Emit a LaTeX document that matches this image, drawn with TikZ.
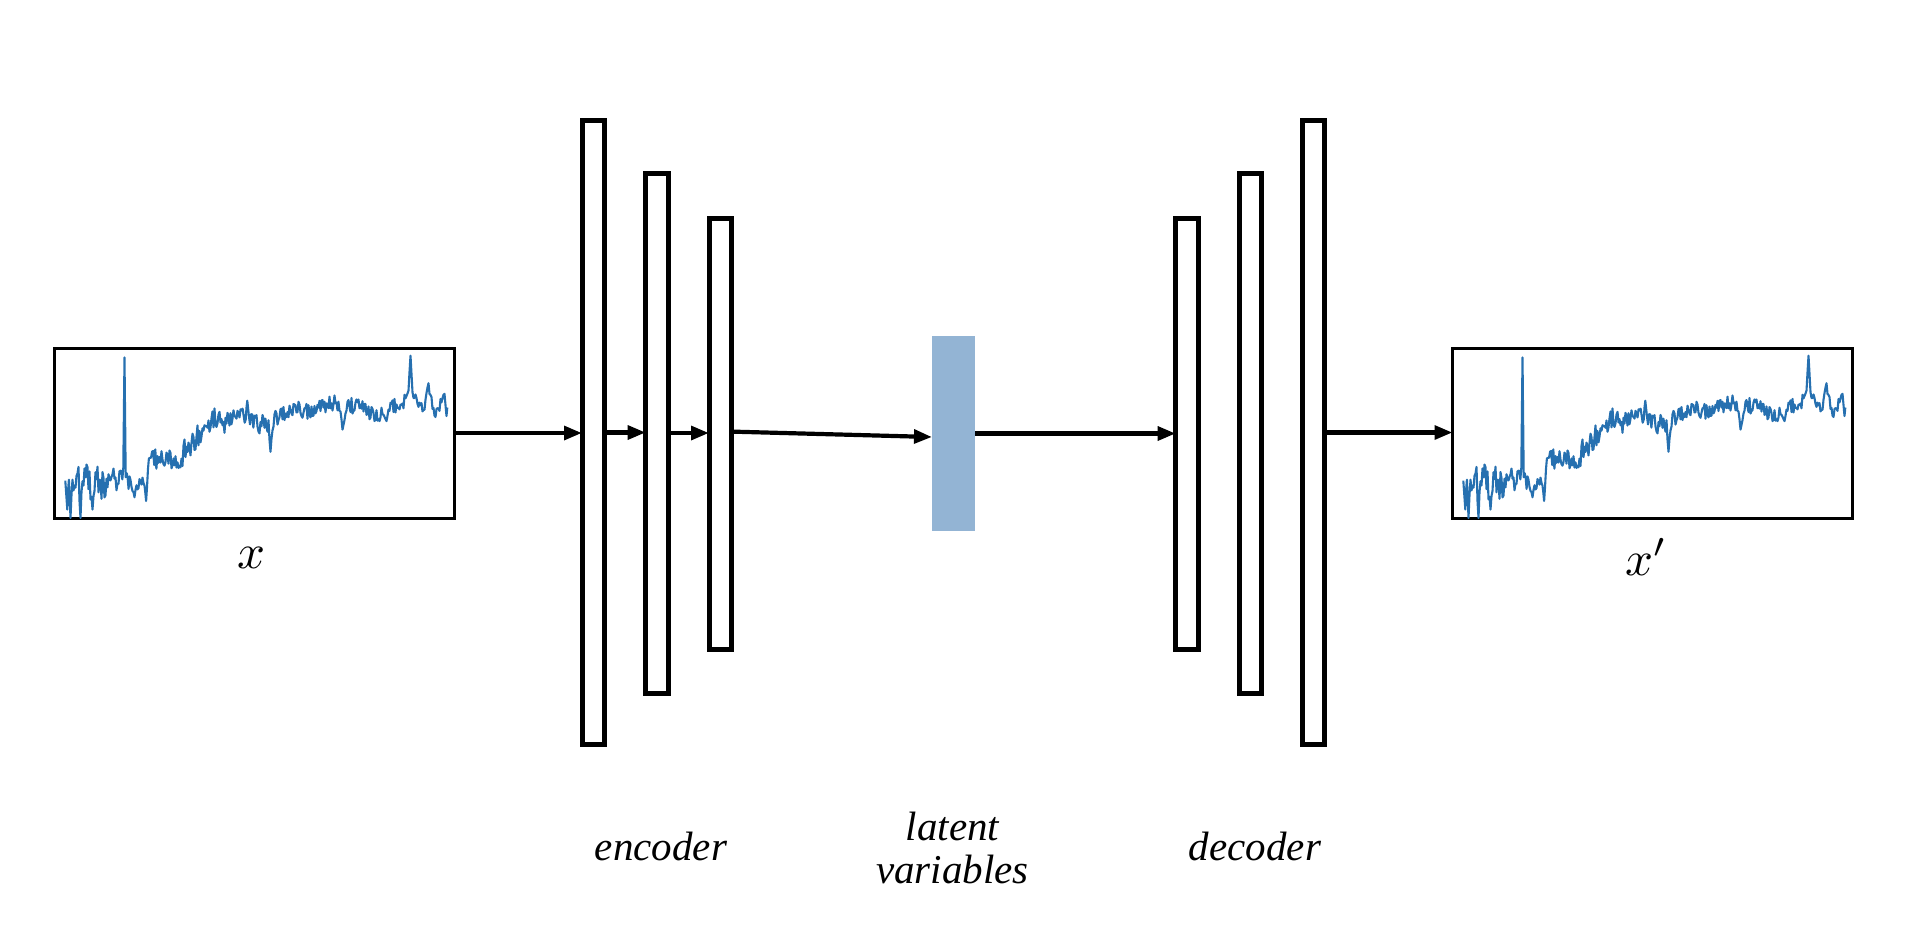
\documentclass[tikz,border=0pt]{standalone}
\usepackage{graphicx}
\usepackage{fontspec}
\setmainfont{Liberation Serif}
\usetikzlibrary{arrows.meta,calc}
\definecolor{sig}{RGB}{38,112,176}
\definecolor{latc}{RGB}{147,180,212}
\begin{document}
\begin{tikzpicture}[x=0.5pt,y=-0.5pt,
  bar/.style={draw, line width=2.5pt, minimum width=11.3pt, inner sep=0pt, outer sep=0pt},
  sigbox/.style={draw, line width=1.5pt, minimum width=200pt, minimum height=85pt, inner sep=0pt, outer sep=0pt},
  conn/.style={line width=2.1pt, -{Triangle[length=9pt,width=6.8pt]}},
  lbl/.style={font=\fontsize{20.5}{22}\selectfont\itshape, inner sep=0pt, align=center},
  mlbl/.style={inner sep=0pt}]
\useasboundingbox[fill=white] (0,0) rectangle (1910,944);

% ---- signal path (computed once, drawn twice) ----
\pgfmathsetseed{11}
\gdef\sigpath{(0.027,0.22)}
\foreach \u/\v/\a [remember=\u as \pu (initially 0.027), remember=\v as \pv (initially 0.22)] in {
 0.032/0.05/0, 0.036/0.24/0.03, 0.04/0.0/0, 0.045/0.25/0.03, 0.06/0.2/0.08, 0.065/0.0/0,
 0.07/0.22/0.03, 0.09/0.2/0.08, 0.095/0.05/0, 0.10/0.2/0.03, 0.12/0.20/0.07, 0.14/0.21/0.06,
 0.16/0.23/0.05, 0.172/0.24/0.04, 0.175/0.945/0, 0.178/0.24/0, 0.19/0.20/0.04, 0.20/0.10/0.02,
 0.21/0.22/0.04, 0.225/0.20/0.04, 0.229/0.10/0, 0.236/0.34/0.02, 0.26/0.35/0.04, 0.28/0.36/0.04,
 0.30/0.35/0.04, 0.315/0.28/0.02, 0.325/0.42/0.03, 0.34/0.43/0.04, 0.36/0.49/0.04, 0.38/0.53/0.04,
 0.40/0.59/0.04, 0.42/0.56/0.04, 0.44/0.57/0.04, 0.46/0.60/0.04, 0.478/0.61/0.03, 0.482/0.69/0,
 0.486/0.60/0, 0.50/0.58/0.04, 0.52/0.55/0.04, 0.535/0.53/0.03, 0.54/0.39/0, 0.55/0.58/0.03,
 0.57/0.62/0.03, 0.60/0.64/0.03, 0.63/0.63/0.03, 0.66/0.64/0.03, 0.68/0.66/0.03, 0.70/0.68/0.03,
 0.715/0.64/0.02, 0.72/0.52/0, 0.73/0.66/0.02, 0.76/0.66/0.03, 0.78/0.64/0.03, 0.80/0.61/0.03,
 0.82/0.62/0.03, 0.83/0.57/0, 0.84/0.65/0.03, 0.86/0.67/0.03, 0.88/0.70/0.03, 0.885/0.76/0.02,
 0.89/0.955/0, 0.895/0.74/0, 0.91/0.65/0.03, 0.925/0.66/0.02, 0.935/0.80/0.01, 0.945/0.64/0.02,
 0.96/0.64/0.03, 0.975/0.73/0.02, 0.98/0.60/0, 0.982/0.65/0}{
  \pgfmathtruncatemacro\nn{max(1,round((\u-\pu)/0.0026))}
  \foreach \k in {1,...,\nn}{
    \pgfmathsetmacro\uu{\pu+(\u-\pu)*\k/\nn}
    \pgfmathsetmacro\vv{\pv+(\v-\pv)*\k/\nn+1.6*\a*rand}
    \xdef\sigpath{\sigpath -- (\uu,\vv)}
  }
}

% ---- input / output boxes ----
\node[sigbox] (bx) at (254.5,433) {};
\node[sigbox] (bx2) at (1652.5,433) {};
\foreach \b in {bx,bx2}{
  \begin{scope}[shift={(\b.south west)}, x=200pt, y=85pt]
    \clip (0,0) rectangle (1,1);
    \draw[sig, line width=1.05pt, line join=round] \sigpath;
  \end{scope}
}

% ---- encoder bars ----
\node[bar, minimum height=312pt] (b1) at (593.3,432.5) {};
\node[bar, minimum height=260pt] (b2) at (657,433) {};
\node[bar, minimum height=215.5pt] (b3) at (720.3,433.6) {};
% ---- latent ----
\node[fill=latc, minimum width=21.5pt, minimum height=97.5pt, inner sep=0pt, outer sep=0pt] (lat) at (953.5,433.5) {};
% ---- decoder bars ----
\node[bar, minimum height=215.5pt] (b4) at (1187,433.6) {};
\node[bar, minimum height=260pt] (b5) at (1250.3,433) {};
\node[bar, minimum height=312pt] (b6) at (1313.3,432.5) {};

% ---- connectors ----
\draw[conn] (bx.east) -- (bx.east -| b1.west);
\draw[conn] (b1.east) -- (b1.east -| b2.west);
\draw[conn] (b2.east) -- (b2.east -| b3.west);
\draw[conn] ($(b3.east)+(0,-2)$) -- ($(lat.west)+(0,3.5)$);
\draw[conn] (lat.east) -- (lat.east -| b4.west);
\draw[conn] (b6.east) -- (b6.east -| bx2.west);

% ---- labels ----
\node[mlbl, anchor=base] (lx) at (251.5,568) {\scalebox{2.45}{$x$}};
\node[mlbl, anchor=base] (lx2) at (1646,575) {\scalebox{2.45}{$x'$}};
\node[lbl, anchor=base] (lenc) at (661,860) {encoder};
\node[lbl, anchor=center] (llat) at (952.5,848) {latent\\[-0.6pt]variables};
\node[lbl, anchor=base] (ldec) at (1255,860) {decoder};
\end{tikzpicture}
\end{document}
